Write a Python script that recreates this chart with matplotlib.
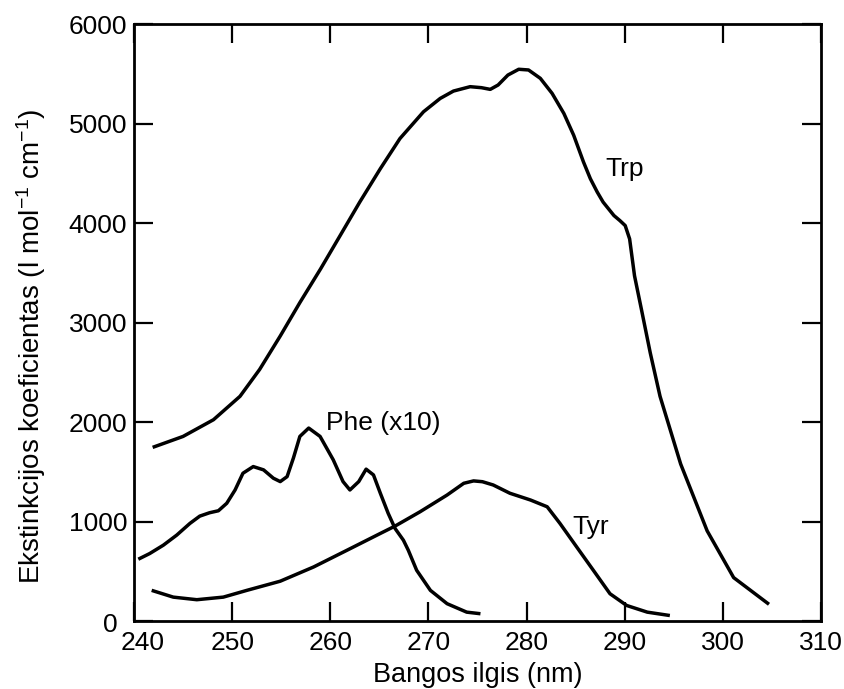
import matplotlib
matplotlib.use("Agg")
import matplotlib.pyplot as plt
import matplotlib.transforms as mtransforms

plt.rcParams['font.family'] = ['Liberation Sans', 'DejaVu Sans']
plt.rcParams['mathtext.default'] = 'regular'

# Tryptophan
trp_nm = [241.9, 245.0, 248.1, 250.8, 252.8, 254.9, 256.9, 259.0, 261.0, 263.0,
          265.1, 267.1, 269.5, 271.2, 272.55, 274.25, 275.4, 276.3, 277.1, 278.1,
          279.2, 280.2, 281.4, 282.6, 283.8, 284.8, 285.8, 286.5, 287.2, 287.8,
          288.9, 289.5, 290.05, 290.5, 291.0, 291.7, 292.6, 293.6, 295.7, 298.4,
          301.1, 304.7]
trp_val = [1745, 1855, 2023, 2258, 2528, 2864, 3200, 3537, 3873, 4210,
           4546, 4849, 5118, 5252, 5326, 5370, 5360, 5343, 5387, 5487,
           5545, 5538, 5454, 5303, 5101, 4882, 4613, 4445, 4311, 4210,
           4075, 4025, 3974, 3840, 3469, 3133, 2696, 2258, 1578, 906,
           436, 168]

# Phenylalanine (x10)
phe_nm = [240.44, 241.6, 242.99, 244.35, 245.7, 246.7, 247.7, 248.6, 249.45, 250.3,
          251.1, 252.15, 253.2, 254.2, 254.9, 255.6, 256.25, 256.9, 257.8, 258.96,
          260.3, 261.3, 262.0, 262.9, 263.65, 264.4, 265.1, 265.9, 266.6, 267.45,
          267.95, 268.8, 270.2, 271.9, 273.9, 275.3]
phe_val = [621, 678, 762, 863, 981, 1054, 1088, 1108, 1183, 1317,
           1485, 1552, 1519, 1435, 1401, 1451, 1640, 1855, 1939, 1855,
           1620, 1401, 1317, 1401, 1526, 1468, 1284, 1082, 930, 812,
           711, 510, 308, 174, 89, 73]

# Tyrosine
tyr_nm = [241.8, 244.0, 246.4, 249.1, 251.5, 254.9, 258.3, 261.7, 265.1, 266.6,
          269.15, 271.9, 273.6, 274.6, 275.5, 276.6, 278.3, 280.4, 282.1, 283.4,
          285.1, 286.8, 288.5, 290.2, 292.3, 294.6]
tyr_val = [308, 240, 214, 240, 308, 400, 543, 711, 880, 954,
           1098, 1266, 1384, 1408, 1400, 1367, 1284, 1216, 1148, 981,
           745, 510, 274, 156, 89, 55]

x_ticks = [240, 250, 260, 270, 280, 290, 300, 310]
y_ticks = [0, 1000, 2000, 3000, 4000, 5000, 6000]

fig = plt.figure(figsize=(8.44, 6.89), dpi=100)
ax = fig.add_axes([134/844, 1-621/689, (821-134)/844, (621-24)/689])

for xs, ys in [(trp_nm, trp_val), (phe_nm, phe_val), (tyr_nm, tyr_val)]:
    ax.plot(xs, ys, color='black', lw=2.5, solid_joinstyle='round', solid_capstyle='butt')

ax.set_xlim(240, 310)
ax.set_ylim(0, 6000)
ax.set_xticks(x_ticks)
ax.set_yticks(y_ticks)
ax.tick_params(direction='in', length=14, width=1.6, top=True, right=True,
               labelsize=19)
ax.tick_params(axis='x', pad=7)
ax.tick_params(axis='y', pad=5)
for s in ax.spines.values():
    s.set_linewidth(2.0)

# nudge the corner labels apart, as in the original
xl0 = ax.get_xticklabels()[0]
xl0.set_transform(xl0.get_transform() + mtransforms.ScaledTranslation(9/100, 0, fig.dpi_scale_trans))
yl0 = ax.get_yticklabels()[0]
yl0.set_transform(yl0.get_transform() + mtransforms.ScaledTranslation(-9/100, -2/100, fig.dpi_scale_trans))

ax.set_xlabel('Bangos ilgis (nm)', fontsize=19.5, labelpad=5)
ax.set_ylabel('Ekstinkcijos koeficientas (l mol$^{-1}$ cm$^{-1}$)', fontsize=20, labelpad=15)
ax.yaxis.label.set_y(0.46)

ax.text(289.95, 4546, 'Trp', fontsize=19, ha='center', va='center')
ax.text(259.6, 1993, 'Phe (x10)', fontsize=19, ha='left', va='center')
ax.text(286.5, 943, 'Tyr', fontsize=19, ha='center', va='center')

fig.savefig('out.png', dpi=100)
